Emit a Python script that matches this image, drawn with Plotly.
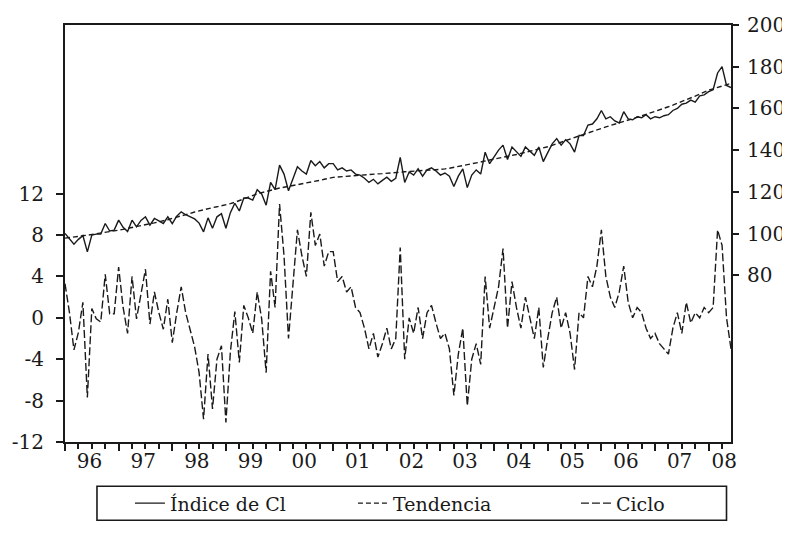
import plotly.graph_objects as go

# ---- data (monthly, 1996M01 - 2008M06) ----
years = list(range(1996, 2009))
year_labels = ["96", "97", "98", "99", "00", "01", "02", "03", "04", "05", "06", "07", "08"]
months = [f"{y}M{m:02d}" for y in years for m in range(1, 13)][:150]

indice = [
    100.0, 97.5, 94.9, 97.2, 99.0, 91.2, 99.2, 99.7, 99.7, 104.8, 101.2, 101.6,
    106.4, 103.0, 100.9, 106.4, 103.2, 106.3, 108.0, 104.0, 107.2, 106.1, 104.8, 108.0,
    104.7, 108.3, 110.4, 109.0, 108.0, 107.0, 105.0, 100.8, 107.5, 102.5, 108.0, 109.5,
    102.5, 110.0, 114.5, 110.8, 117.0, 117.0, 116.0, 121.0, 119.0, 113.6, 124.5, 121.0,
    132.8, 128.5, 120.5, 126.0, 132.0, 130.0, 128.5, 135.0, 132.5, 134.5, 131.5, 133.5,
    133.5, 130.5, 131.5, 130.0, 130.5, 128.5, 128.0, 126.5, 124.5, 126.0, 123.8, 125.5,
    127.0, 125.0, 126.5, 136.5, 124.5, 129.5, 128.0, 131.0, 127.5, 130.5, 131.5, 130.0,
    128.0, 129.0, 127.5, 122.5, 127.5, 131.0, 122.0, 128.0, 130.5, 128.5, 139.0, 133.5,
    137.0, 140.0, 142.4, 135.5, 141.5, 139.0, 137.0, 141.5, 139.5, 137.5, 141.5, 134.5,
    138.8, 143.0, 145.5, 142.4, 145.0, 143.0, 139.0, 147.0, 147.0, 152.0, 152.5, 155.0,
    159.0, 155.0, 156.0, 154.0, 153.0, 158.4, 155.0, 154.5, 156.0, 155.5, 157.0, 155.0,
    156.0, 155.5, 156.5, 157.0, 159.0, 160.0, 162.0, 162.5, 164.0, 163.0, 166.0, 166.5,
    168.0, 169.0, 177.0, 180.0, 171.0, 170.0,
]

tendencia = [
    97.8, 98.0, 98.3, 98.6, 98.9, 99.2, 99.5, 99.8, 100.1, 100.5, 100.8, 101.2,
    101.6, 102.0, 102.4, 102.8, 103.3, 103.7, 104.2, 104.6, 105.1, 105.6, 106.0, 106.6,
    107.3, 107.8, 108.4, 109.0, 109.6, 110.3, 110.9, 111.4, 111.9, 112.4, 112.8, 113.2,
    113.6, 114.3, 115.0, 115.8, 116.6, 117.5, 118.4, 119.0, 119.6, 120.2, 120.7, 121.3,
    121.8, 122.2, 122.6, 123.0, 123.4, 123.7, 124.0, 124.5, 125.0, 125.5, 126.0, 126.5,
    126.9, 127.1, 127.3, 127.5, 127.7, 127.9, 128.0, 128.1, 128.3, 128.4, 128.6, 128.7,
    128.8, 129.0, 129.2, 129.4, 129.6, 129.8, 130.0, 130.1, 130.2, 130.3, 130.5, 130.6,
    130.7, 131.0, 131.3, 131.7, 132.0, 132.4, 132.8, 133.3, 133.8, 134.3, 134.8, 135.2,
    135.7, 136.1, 136.6, 137.0, 137.5, 137.9, 138.4, 138.9, 139.5, 140.0, 140.5, 141.1,
    141.6, 142.3, 143.1, 143.8, 144.6, 145.3, 146.1, 146.8, 147.5, 148.2, 149.0, 149.7,
    150.4, 151.1, 151.8, 152.4, 153.1, 153.7, 154.4, 155.1, 155.7, 156.4, 157.1, 157.7,
    158.4, 159.2, 160.0, 160.8, 161.6, 162.4, 163.2, 164.1, 165.0, 165.9, 166.9, 167.9,
    168.8, 169.4, 170.0, 170.6, 171.3, 172.0,
]

ciclo = [
    3.3, 0.5, -3.1, -1.4, 1.5, -7.7, 0.9, -0.1, -0.4, 4.2, 0.4, 0.4,
    4.9, 1.0, -1.5, 4.0, -0.1, 2.5, 4.7, -0.6, 2.5, 0.5, -1.1, 1.8,
    -2.4, 0.5, 3.0, 0.5, -1.1, -2.8, -5.3, -9.8, -3.5, -8.8, -4.0, -2.7,
    -10.1, -3.3, 0.6, -4.3, 1.2, 0.0, -1.5, 2.5, -0.1, -5.3, 4.5, 1.0,
    11.0, 6.0, -2.0, 3.0, 8.5, 6.0, 4.0, 10.2, 7.0, 8.1, 5.0, 6.4,
    6.4, 3.5, 4.0, 2.5, 3.0, 1.0, 0.5, -1.0, -3.0, -1.5, -3.8, -2.5,
    -1.0, -3.0, -2.0, 6.8, -4.0, 0.0, -1.5, 1.0, -2.0, 0.5, 1.2, -0.5,
    -2.0, -1.5, -3.0, -7.5, -3.5, -1.0, -8.5, -4.0, -2.5, -4.5, 4.0, -1.0,
    1.0, 3.0, 6.7, -1.0, 3.5, 1.0, -1.0, 2.0, 0.0, -2.0, 1.0, -4.8,
    -2.0, 0.5, 2.0, -1.0, 0.5, -1.5, -5.0, 0.5, 0.0, 4.0, 3.0, 5.0,
    8.5, 4.0, 2.0, 1.0, 2.5, 5.0, 1.5, 0.0, 1.0, 0.5, -1.0, -2.0,
    -1.5, -2.5, -3.0, -3.5, -1.0, 0.5, -1.5, 1.5, -0.5, 0.5, 0.0, 1.0,
    0.5, 1.0, 8.5, 7.0, 0.0, -3.0,
]

left_ticks = [-12, -8, -4, 0, 4, 8, 12]
left_labels = ["-12", "-8", "-4", "0", "4", "8", "12"]
right_ticks = [80, 100, 120, 140, 160, 180, 200]

n = len(months)
xi = list(range(n))
year_starts = [12 * k for k in range(len(years))]
label_pos = [12 * k + 5.5 for k in range(len(years) - 1)] + [147.5]

FONT = "DejaVu Serif"
INK = "#1a1a1a"
W, H = 790, 538
# the page adds an 8px body margin, so figure coords = screen coords - 8
ML, MT = 57, 16.5
PW, PH = 666.5, 417.2
MR, MB = W - ML - PW, H - MT - PH


def px_x(p):
    return (p - ML) / PW


def px_y(p):
    return (MT + PH - p) / PH


fig = go.Figure()
fig.add_trace(go.Scatter(x=xi, y=indice, name="Índice de Cl", yaxis="y2", mode="lines",
                         line=dict(color=INK, width=1.4), text=months))
fig.add_trace(go.Scatter(x=xi, y=tendencia, name="Tendencia", yaxis="y2", mode="lines",
                         line=dict(color=INK, width=1.4, dash="5px,3px"), text=months))
fig.add_trace(go.Scatter(x=xi, y=ciclo, name="Ciclo", yaxis="y", mode="lines",
                         line=dict(color=INK, width=1.4, dash="8px,3px"), text=months))
# invisible helper trace so the year-tick overlay axis is drawn
fig.add_trace(go.Scatter(x=[0, n - 1], y=[None, None], xaxis="x2", yaxis="y",
                         showlegend=False, hoverinfo="skip", mode="lines"))

fig.add_shape(type="rect", xref="paper", yref="paper",
              x0=px_x(89), x1=px_x(719), y0=px_y(478), y1=px_y(512),
              line=dict(color=INK, width=1.6), fillcolor="rgba(0,0,0,0)")

fig.update_layout(
    width=W, height=H,
    margin=dict(l=ML, r=MR, t=MT, b=MB, autoexpand=False),
    paper_bgcolor="white", plot_bgcolor="white",
    font=dict(family=FONT, size=20, color=INK),
    showlegend=True,
    legend=dict(orientation="h", x=px_x(122), xanchor="left", y=px_y(495), yanchor="middle",
                bgcolor="rgba(0,0,0,0)", borderwidth=0, entrywidth=178,
                font=dict(family=FONT, size=19, color=INK),
                traceorder="normal"),
    xaxis=dict(range=[0, n - 1], tickmode="array", tickvals=label_pos, ticktext=year_labels,
               ticks="", showgrid=False, zeroline=False, showline=True, linecolor=INK,
               linewidth=2, mirror=True, tickfont=dict(size=20), automargin=False,
               minor=dict(tickmode="array", tickvals=[3 * k for k in range(50)],
                          ticks="outside", ticklen=5, tickwidth=1.5, tickcolor=INK,
                          showgrid=False)),
    xaxis2=dict(range=[0, n - 1], overlaying="x", anchor="y", side="bottom",
                tickmode="array", tickvals=year_starts, showticklabels=False,
                ticks="outside", ticklen=8, tickwidth=1.5, tickcolor=INK,
                showgrid=False, zeroline=False, showline=False, automargin=False),
    yaxis=dict(range=[-12, 28.3], tickmode="array", tickvals=left_ticks, ticktext=left_labels,
               ticks="outside", ticklen=7, tickwidth=1.5, tickcolor=INK,
               showgrid=False, zeroline=False, showline=True, linecolor=INK, linewidth=2,
               tickfont=dict(size=20), automargin=False, ticklabelstandoff=8),
    yaxis2=dict(range=[0, 200], overlaying="y", side="right", anchor="x",
                tickmode="array", tickvals=right_ticks,
                ticks="outside", ticklen=6, tickwidth=1.5, tickcolor=INK,
                showgrid=False, zeroline=False, showline=True, linecolor=INK, linewidth=2,
                tickfont=dict(size=20), automargin=False, ticklabelstandoff=4),
)

fig.write_html("out.html")
